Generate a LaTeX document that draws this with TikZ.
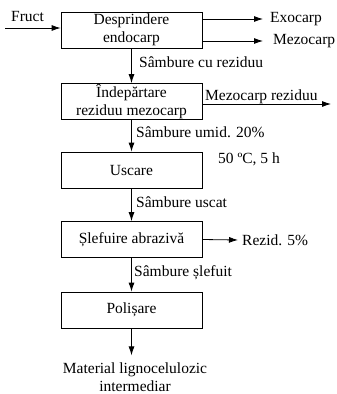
\documentclass[tikz,border=0pt]{standalone}
\usepackage{fontspec}
\setmainfont{Liberation Serif}
\usetikzlibrary{arrows.meta, positioning}

\tikzset{
  stage/.style={draw, line width=0.8pt, minimum width=141pt, minimum height=36pt, align=center, inner sep=0pt},
  flow/.style={line width=0.8pt, -{Latex[length=9pt,width=6pt]}},
  lbl/.style={inner sep=0pt, anchor=west}
}

\begin{document}
\begin{tikzpicture}[x=1pt, y=-1pt, font=\fontsize{15.5}{18}\selectfont]
              \useasboundingbox (0,0) rectangle (337,394);
                \node [stage] at (131.5,30) (b1) {Desprindere\\endocarp};
                \node [stage] at (131.5,101.5) (b2) {Îndepărtare\\reziduu mezocarp};
                \node [stage] at (131.5,170) (b3) {Uscare};
                \node [stage] at (131.5,239.5) (b4) {Șlefuire abrazivă};
                \node [stage] at (131.5,310) (b5) {Polișare};
                \node [align=center, inner sep=0pt] at (135,377) (out) {Material lignocelulozic\\intermediar};

                \node [lbl] at (11,16) (fr) {Fruct};
                \coordinate (in) at (5,28);
                \node [lbl] at (270,19) (exo) {Exocarp};
                \node [lbl] at (273,41) (mez) {Mezocarp};
                \coordinate (mr) at (331,104);
                \node [lbl] at (205,97) (mrl) {Mezocarp reziduu};
                \node [lbl] at (218,159) (cond) {50 ºC, 5 h};
                \node [lbl] at (242,240) (rez) {Rezid. 5\%};

                \node [lbl] at (139,62) (s1) {Sâmbure cu reziduu};
                \node [lbl] at (136,132) (s2) {Sâmbure umid. 20\%};
                \node [lbl] at (136,202) (s3) {Sâmbure uscat};
                \node [lbl] at (134,273) (s4) {Sâmbure șlefuit};

                \draw [flow] (in) -- (b1.west |- in);
                \draw [flow] (b1.east |- exo) -- ([xshift=-7pt]exo.west);
                \draw [flow] (b1.east |- mez) -- ([xshift=-10pt]mez.west);
                \draw [flow] (b2.east |- mr) -- (mr);
                \draw [flow] (b4.east) -- ([xshift=-4pt]rez.west);
                \draw [flow] (b1) -- (b2);
                \draw [flow] (b2) -- (b3);
                \draw [flow] (b3) -- (b4);
                \draw [flow] (b4) -- (b5);
                \draw [flow] (b5) -- ([yshift=7pt]b5.south |- out.north);
\end{tikzpicture}
\end{document}
